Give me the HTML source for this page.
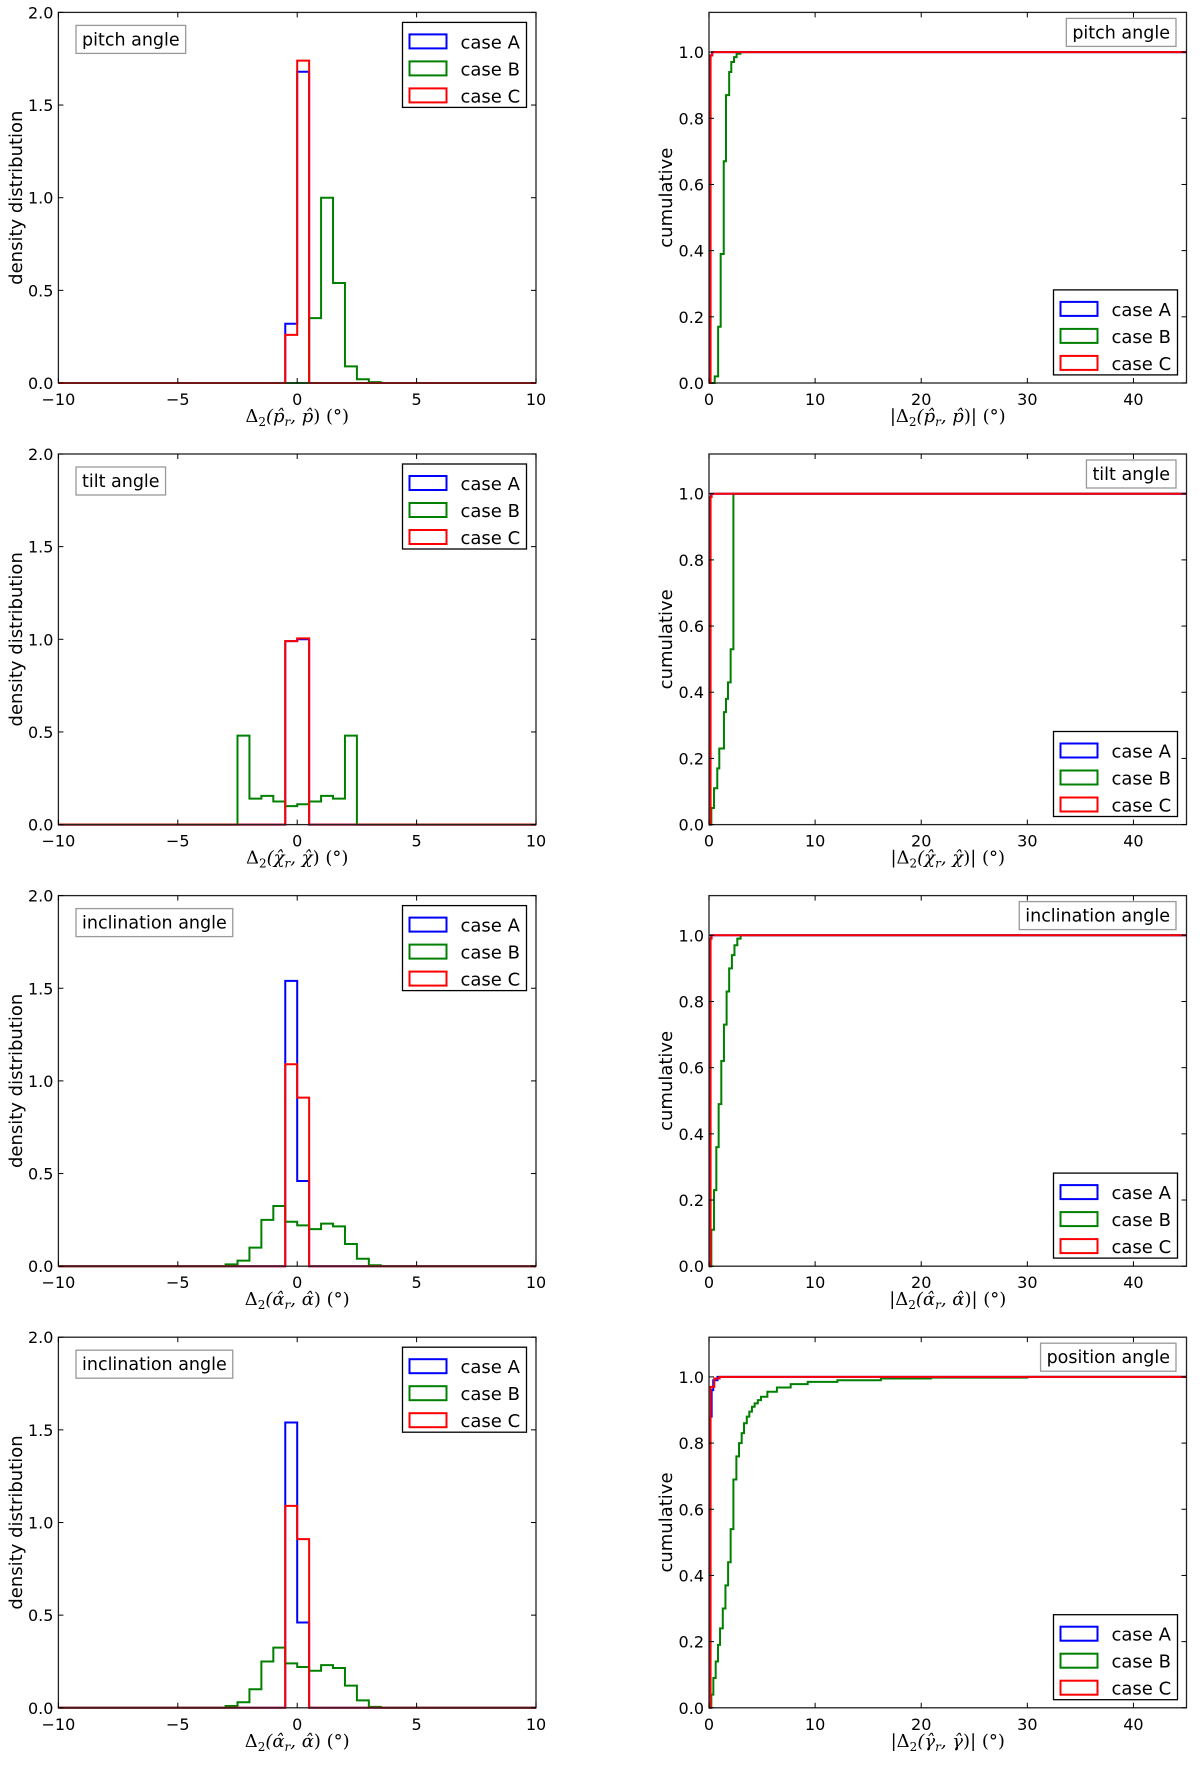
<!DOCTYPE html>
<html><head><meta charset="utf-8"><style>
body{margin:0;background:#fff;}
svg{display:block;font-family:"DejaVu Sans","Liberation Sans",sans-serif;}
</style></head><body>
<svg id="fig" width="1200" height="1765" viewBox="0 0 1200 1765"></svg>
<script>
// ---------- data ----------
const histXTicks = [-10, -5, 0, 5, 10];
const histYTicks = [0, 0.5, 1.0, 1.5, 2.0];
const cumXTicks = [0, 10, 20, 30, 40];
const cumYTicks = [0, 0.2, 0.4, 0.6, 0.8, 1.0];
const caseNames = ["case A", "case B", "case C"];

// histogram bins: start edges (width 0.5) and densities
const pitchA_bins = [-0.5, 0];          const pitchA_vals = [0.32, 1.68];
const pitchB_bins = [0.5, 1, 1.5, 2, 2.5, 3]; const pitchB_vals = [0.35, 1.0, 0.54, 0.09, 0.02, 0.005];
const pitchC_bins = [-0.5, 0];          const pitchC_vals = [0.26, 1.74];

const tiltA_bins = [-0.5, 0];           const tiltA_vals = [0.99, 1.0];
const tiltB_bins = [-2.5, -2, -1.5, -1, -0.5, 0, 0.5, 1, 1.5, 2];
const tiltB_vals = [0.48, 0.14, 0.155, 0.125, 0.10, 0.11, 0.125, 0.155, 0.14, 0.48];
const tiltC_bins = [-0.5, 0];           const tiltC_vals = [0.99, 1.005];

const inclA_bins = [-0.5, 0];           const inclA_vals = [1.54, 0.46];
const inclB_bins = [-3, -2.5, -2, -1.5, -1, -0.5, 0, 0.5, 1, 1.5, 2, 2.5, 3];
const inclB_vals = [0.01, 0.03, 0.10, 0.25, 0.325, 0.24, 0.22, 0.20, 0.23, 0.215, 0.12, 0.04, 0.005];
const inclC_bins = [-0.5, 0];           const inclC_vals = [1.09, 0.91];

// cumulative step curves: x (deg) and cumulative value
const cPitchA_x = [0, 0.1, 0.3];  const cPitchA_y = [0, 0.99, 1.0];
const cPitchB_x = [0, 0.54, 0.86, 1.1, 1.39, 1.6, 1.9, 2.1, 2.36, 2.6, 2.96];
const cPitchB_y = [0, 0.02, 0.17, 0.39, 0.67, 0.87, 0.94, 0.97, 0.985, 0.995, 1.0];
const cPitchC_x = [0, 0.15, 0.3]; const cPitchC_y = [0, 0.99, 1.0];

const cTiltA_x = [0, 0.1, 0.2];   const cTiltA_y = [0, 0.99, 1.0];
const cTiltB_x = [0, 0.22, 0.47, 0.78, 0.97, 1.41, 1.6, 1.79, 2.04, 2.3];
const cTiltB_y = [0, 0.05, 0.11, 0.17, 0.23, 0.34, 0.38, 0.43, 0.53, 1.0];
const cTiltC_x = [0, 0.15, 0.25]; const cTiltC_y = [0, 0.99, 1.0];

const cInclA_x = [0, 0.1, 0.2];   const cInclA_y = [0, 0.99, 1.0];
const cInclB_x = [0, 0.22, 0.47, 0.69, 0.91, 1.16, 1.41, 1.66, 1.9, 2.16, 2.4, 2.67, 2.98];
const cInclB_y = [0, 0.11, 0.23, 0.36, 0.49, 0.62, 0.73, 0.83, 0.90, 0.94, 0.97, 0.99, 1.0];
const cInclC_x = [0, 0.15, 0.25]; const cInclC_y = [0, 0.99, 1.0];

const cPosA_x = [0, 0.1, 0.25, 0.4, 0.8];  const cPosA_y = [0, 0.88, 0.96, 0.99, 1.0];
const cPosB_x = [0, 0.22, 0.41, 0.63, 0.85, 1.04, 1.3, 1.55, 1.8, 2.04, 2.3, 2.58, 2.83, 3.08, 3.3, 3.56, 3.8, 4.05, 4.3, 4.6, 4.9, 5.5, 6.4, 7.7, 9.3, 12.1, 16.2, 20.9, 30];
const cPosB_y = [0, 0.04, 0.09, 0.14, 0.19, 0.24, 0.30, 0.37, 0.44, 0.54, 0.69, 0.76, 0.80, 0.83, 0.86, 0.88, 0.895, 0.91, 0.92, 0.93, 0.94, 0.955, 0.968, 0.978, 0.985, 0.99, 0.995, 0.998, 1.0];
const cPosC_x = [0, 0.15, 0.5, 1.0]; const cPosC_y = [0, 0.97, 0.995, 1.0];

const colors = ["#0000ff", "#008000", "#ff0000"];
// ---------- drawing ----------
const NS = "http://www.w3.org/2000/svg";
const svg = document.getElementById("fig");
function mk(tag, attrs, parent) {
  const e = document.createElementNS(NS, tag);
  for (const k in attrs) e.setAttribute(k, attrs[k]);
  (parent || svg).appendChild(e);
  return e;
}
const L = {x0: 58.4, x1: 536}, R = {x0: 709, x1: 1186.5};
const rowTop = [12.4, 454, 895.6, 1337.2], rowH = 370.6;

function axesFrame(g, X0, X1, Y0, Y1, xs, ys, xt, yt, xfmt, yfmt) {
  xt.forEach(v => {
    const x = xs(v);
    const t1 = mk("line", {x1: x, x2: x, y1: Y1, y2: Y1 - 5, stroke: "#000", "stroke-width": 1}, g);
    
    
    mk("line", {x1: x, x2: x, y1: Y0, y2: Y0 + 5, stroke: "#000", "stroke-width": 1}, g);
    const tx = mk("text", {x: x, y: Y1 + 22, "text-anchor": "middle", "font-size": 16}, g);
    tx.textContent = xfmt(v);
    
    
  });
  yt.forEach(v => {
    const y = ys(v);
    mk("line", {x1: X0, x2: X0 + 5, y1: y, y2: y, stroke: "#000", "stroke-width": 1}, g);
    mk("line", {x1: X1, x2: X1 - 5, y1: y, y2: y, stroke: "#000", "stroke-width": 1}, g);
    const ty = mk("text", {x: X0 - 5, y: y + 6, "text-anchor": "end", "font-size": 16}, g);
    ty.textContent = yfmt(v);
    
    
  });
}
function frameRect(g, X0, X1, Y0, Y1) {
  const r = mk("rect", {x: X0, y: Y0, width: X1 - X0, height: Y1 - Y0, fill: "none", stroke: "#222", "stroke-width": 1.3}, g);
  
  
}
function legend(g, lx, ly) {
  const box = mk("rect", {x: lx, y: ly, width: 124, height: 85, fill: "#fff", stroke: "#000", "stroke-width": 1.3}, g);
  
  
  caseNames.forEach((n, i) => {
    const yy = ly + 12 + i * 27;
    const sw = mk("rect", {x: lx + 7, y: yy, width: 37, height: 14, fill: "none", stroke: colors[i], "stroke-width": 2}, g);
    
    
    const t = mk("text", {x: lx + 58, y: yy + 14, "font-size": 18}, g);
    t.textContent = n;
    
    
  });
}
function labelBox(g, x, y, text, alignRight) {
  const r = mk("rect", {x: x, y: y, width: 10, height: 28, fill: "#fff", stroke: "#999", "stroke-width": 1.3}, g);
  
  
  const t = mk("text", {x: x + 6, y: y + 20, "font-size": 17.5}, g);
  t.textContent = text;
  
  
  const w = t.getComputedTextLength() + 12;
  r.setAttribute("width", w);
  if (alignRight) { r.setAttribute("x", x - w); t.setAttribute("x", x - w + 6); }
}
function xLabel(g, cx, y, sym, abs) {
  const t = mk("text", {x: cx, y: y, "text-anchor": "middle", "font-size": 18, "font-family": "'DejaVu Serif','Liberation Serif',serif"}, g);
  
  
  const parts = [[ (abs ? "|" : "") + "Δ", 0], ["2", 1], ["(" + sym, 0, true], ["r", 1, true], [", " + sym, 0, true], [")" + (abs ? "|" : "") + " (°)", 0]];
  parts.forEach(p => {
    const s = mk("tspan", {}, t);
    s.textContent = p[0];
    if (p[1]) { s.setAttribute("font-size", 12); s.setAttribute("dy", 4); }
    else if (s.previousSibling && s.previousSibling.getAttribute("dy") === "4") s.setAttribute("dy", -4);
    if (p[2]) s.setAttribute("font-style", "italic");
  });
}
function yLabel(g, x, cy, text) {
  const t = mk("text", {x: 0, y: 0, "text-anchor": "middle", "font-size": 18, transform: `translate(${x},${cy}) rotate(-90)`}, g);
  t.textContent = text;
  
  
}

function histPanel(row, title, sym, series) {
  const Y0 = rowTop[row], Y1 = Y0 + rowH, X0 = L.x0, X1 = L.x1;
  const g = mk("g", {});
  
  
  const xs = v => X0 + (v + 10) / 20 * (X1 - X0);
  const ys = v => Y1 - v / 2 * (Y1 - Y0);
  series.forEach((s, i) => {
    const bins = s[0], vals = s[1];
    let d = `M${xs(-10)},${ys(0)} L${xs(bins[0])},${ys(0)}`;
    bins.forEach((b, k) => {
      d += ` L${xs(b)},${ys(vals[k])} L${xs(b + 0.5)},${ys(vals[k])}`;
    });
    const last = bins[bins.length - 1] + 0.5;
    d += ` L${xs(last)},${ys(0)} L${xs(10)},${ys(0)}`;
    const p = mk("path", {d: d, fill: "none", stroke: colors[i], "stroke-width": 2, "stroke-linejoin": "miter"}, g);
    
    
  });
  frameRect(g, X0, X1, Y0, Y1);
  axesFrame(g, X0, X1, Y0, Y1, xs, ys, histXTicks, histYTicks,
    v => v < 0 ? "−" + Math.abs(v) : String(v), v => v.toFixed(1));
  legend(g, 402.5, Y0 + 10);
  labelBox(g, 76, Y0 + 13, title, false);
  xLabel(g, (X0 + X1) / 2, Y1 + 39, sym, false);
  yLabel(g, 22, (Y0 + Y1) / 2, "density distribution");
}
function cumPanel(row, title, sym, series) {
  const Y0 = rowTop[row], Y1 = Y0 + rowH, X0 = R.x0, X1 = R.x1;
  const g = mk("g", {});
  
  
  const xs = v => X0 + v / 45 * (X1 - X0);
  const ys = v => Y1 - v / 1.12 * (Y1 - Y0);
  [1, 0, 2].forEach(i => {
    const xa = series[i][0], ya = series[i][1];
    let d = `M${xs(xa[0])},${ys(ya[0])}`;
    for (let k = 1; k < xa.length; k++) d += ` L${xs(xa[k])},${ys(ya[k - 1])} L${xs(xa[k])},${ys(ya[k])}`;
    d += ` L${xs(45)},${ys(ya[ya.length - 1])}`;
    const p = mk("path", {d: d, fill: "none", stroke: colors[i], "stroke-width": 2}, g);
    
    
  });
  frameRect(g, X0, X1, Y0, Y1);
  axesFrame(g, X0, X1, Y0, Y1, xs, ys, cumXTicks, cumYTicks, v => String(v), v => v.toFixed(1));
  legend(g, 1053.5, Y0 + 277.5);
  labelBox(g, 1176, Y0 + 6, title, true);
  xLabel(g, (X0 + X1) / 2, Y1 + 39, sym, true);
  yLabel(g, 672, (Y0 + Y1) / 2, "cumulative");
}

histPanel(0, "pitch angle", "p̂", [[pitchA_bins, pitchA_vals], [pitchB_bins, pitchB_vals], [pitchC_bins, pitchC_vals]]);
histPanel(1, "tilt angle", "χ̂", [[tiltA_bins, tiltA_vals], [tiltB_bins, tiltB_vals], [tiltC_bins, tiltC_vals]]);
histPanel(2, "inclination angle", "α̂", [[inclA_bins, inclA_vals], [inclB_bins, inclB_vals], [inclC_bins, inclC_vals]]);
histPanel(3, "inclination angle", "α̂", [[inclA_bins, inclA_vals], [inclB_bins, inclB_vals], [inclC_bins, inclC_vals]]);

cumPanel(0, "pitch angle", "p̂", [[cPitchA_x, cPitchA_y], [cPitchB_x, cPitchB_y], [cPitchC_x, cPitchC_y]]);
cumPanel(1, "tilt angle", "χ̂", [[cTiltA_x, cTiltA_y], [cTiltB_x, cTiltB_y], [cTiltC_x, cTiltC_y]]);
cumPanel(2, "inclination angle", "α̂", [[cInclA_x, cInclA_y], [cInclB_x, cInclB_y], [cInclC_x, cInclC_y]]);
cumPanel(3, "position angle", "γ̂", [[cPosA_x, cPosA_y], [cPosB_x, cPosB_y], [cPosC_x, cPosC_y]]);
</script>
</body></html>
